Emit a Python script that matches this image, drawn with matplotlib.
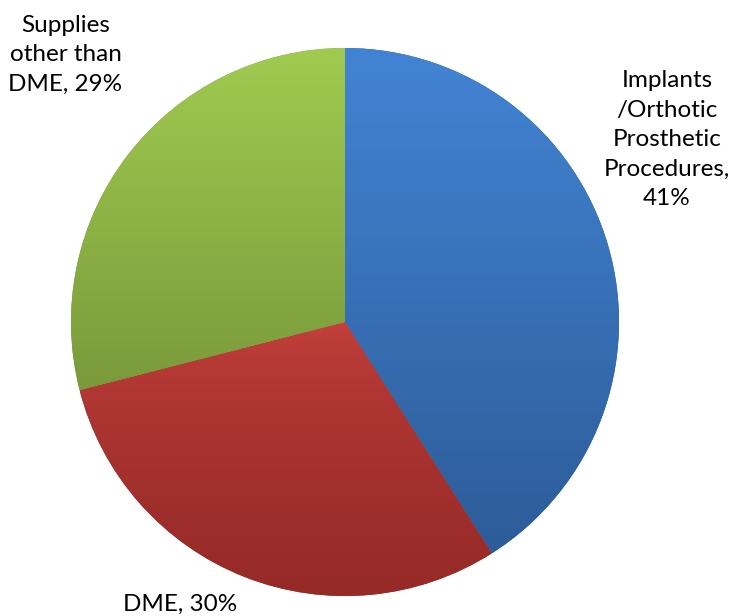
import matplotlib.pyplot as plt
import numpy as np
from matplotlib.colors import LinearSegmentedColormap

labels = ['Implants\n/Orthotic\nProsthetic\nProcedures,\n41%', 'DME, 30%', 'Supplies\nother than\nDME, 29%']
shares = [41, 30, 29]
top_colors = ['#4284D4', '#C9423E', '#A0CB50']
bot_colors = ['#2D5C98', '#952A27', '#7A9A3B']
label_pos = [(1.175, 0.665), (-0.60, -1.03), (-1.02, 0.975)]

plt.rcParams['font.family'] = ['Lato', 'DejaVu Sans']

fig = plt.figure(figsize=(7.31, 6.16), dpi=100)
ax = fig.add_axes([0, 0, 1, 1])

wedges, _ = ax.pie(shares, startangle=90, counterclock=False, radius=1,
                   wedgeprops=dict(linewidth=0))

grad = np.linspace(0, 1, 256).reshape(-1, 1)
for i, (w, c1, c2) in enumerate(zip(wedges, top_colors, bot_colors)):
    v = w.get_path().vertices
    x0, x1 = v[:, 0].min(), v[:, 0].max()
    y0, y1 = v[:, 1].min(), v[:, 1].max()
    cmap = LinearSegmentedColormap.from_list('g', [c1, c2])
    g = grad ** 0.55 if i == 1 else grad
    im = ax.imshow(g, cmap=cmap, extent=[x0, x1, y0, y1], origin='upper',
                   aspect='auto', zorder=2, vmin=0, vmax=1)
    im.set_clip_path(w)
    w.set_facecolor(c2)

for lab, (lx, ly) in zip(labels, label_pos):
    ax.text(lx, ly, lab, ha='center', va='center', fontsize=17.5,
            color='black', linespacing=1.5, zorder=5)

ax.set_xlim(-345 / 274, (731 - 345) / 274)
ax.set_ylim(-(616 - 322) / 274, 322 / 274)
ax.set_aspect('auto')
ax.axis('off')

fig.savefig('out.png', dpi=100)
